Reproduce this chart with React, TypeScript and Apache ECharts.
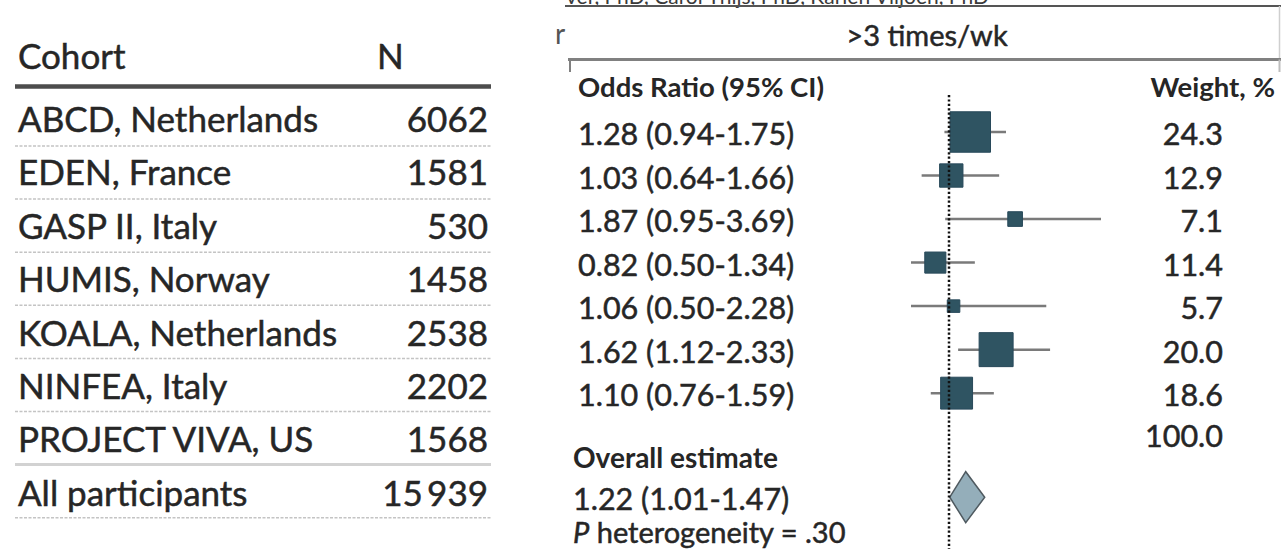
import React, { useEffect, useRef } from "react";
import * as echarts from "echarts";

// Cohort table
const cohorts = [
  "ABCD, Netherlands",
  "EDEN, France",
  "GASP II, Italy",
  "HUMIS, Norway",
  "KOALA, Netherlands",
  "NINFEA, Italy",
  "PROJECT VIVA, US",
];
const cohortN = ["6062", "1581", "530", "1458", "2538", "2202", "1568"];
const totalLabel = "All participants";
const totalN = "15\u2009939";

// Forest plot: >3 times/wk
const oddsRatio = [1.28, 1.03, 1.87, 0.82, 1.06, 1.62, 1.1];
const ciLow = [0.94, 0.64, 0.95, 0.5, 0.5, 1.12, 0.76];
const ciHigh = [1.75, 1.66, 3.69, 1.34, 2.28, 2.33, 1.59];
const weights = [24.3, 12.9, 7.1, 11.4, 5.7, 20.0, 18.6];
const overallEstimate = [1.22, 1.01, 1.47]; // OR, lower, upper
const totalWeight = 100.0;
const pHeterogeneity = ".30";

const X_MIN = 0.5;
const X_MAX = 3;
const Y_MIN = -0.85;
const Y_MAX = 9.58;
const SUMMARY_ROW = 8.39;

const FONT = "Lato, 'Noto Sans', sans-serif";
const TEXT = "#262626";
const ROW_SIZE = 30.5;

const fmt2 = (v: number) => v.toFixed(2);

// regular text with a hairline outline for a slightly heavier face
const txt = (text: string, size: number, align: string, extra: any = {}) => ({
  text,
  fill: TEXT,
  stroke: TEXT,
  lineWidth: 0.5,
  font: `${size}px ${FONT}`,
  textAlign: align,
  textVerticalAlign: "middle",
  ...extra,
});
const boldTxt = (text: string, size: number, align: string) => ({
  text,
  fill: TEXT,
  font: `bold ${size}px ${FONT}`,
  textAlign: align,
  textVerticalAlign: "middle",
});

export default function App() {
  const ref = useRef<HTMLDivElement>(null);

  useEffect(() => {
    if (!ref.current) return;
    const chart = echarts.init(ref.current, null, { renderer: "svg" });

    const graphic: any[] = [];
    const tableText = (text: string, x: number, y: number, align: string) => ({
      type: "text",
      x,
      y,
      style: txt(text, 35, align),
    });

    // table header
    graphic.push(tableText("Cohort", 18, 55, "left"));
    graphic.push(tableText("N", 377, 55, "left"));
    graphic.push({
      type: "line",
      shape: { x1: 15, y1: 86.5, x2: 491, y2: 86.5 },
      style: { stroke: "#4d4d4d", lineWidth: 4.5 },
    });
    const rowsLabel = [...cohorts, totalLabel];
    const rowsN = [...cohortN, totalN];
    rowsLabel.forEach((name, i) => {
      const yc = 118 + i * 53.4;
      graphic.push(tableText(name, 18, yc, "left"));
      graphic.push(tableText(rowsN[i], 488, yc, "right"));
      const ly = 146 + i * 53.1;
      const solid = i === 6;
      graphic.push({
        type: "line",
        shape: { x1: 15, y1: ly, x2: 491, y2: ly },
        style: solid
          ? { stroke: "#d2d2d2", lineWidth: 3 }
          : { stroke: "#c4c4c4", lineWidth: 1.5, lineDash: [3, 1.5] },
      });
    });

    // right panel frame and headings
    graphic.push({
      type: "text",
      x: 566,
      y: -5,
      style: {
        text: "ver, PhD, Carol Thijs, PhD, Karien Viljoen, PhD",
        fill: "#3a3a3a",
        font: `21px ${FONT}`,
        textAlign: "left",
        textVerticalAlign: "middle",
      },
    });
    graphic.push({
      type: "line",
      shape: { x1: 565, y1: 6, x2: 1281, y2: 6 },
      style: { stroke: "#555", lineWidth: 2 },
    });
    graphic.push({
      type: "line",
      shape: { x1: 1279.5, y1: 6, x2: 1279.5, y2: 58 },
      style: { stroke: "#cfcfcf", lineWidth: 1.5 },
    });
    graphic.push({
      type: "text",
      x: 555,
      y: 33,
      style: { text: "r", fill: "#555", font: `28px ${FONT}`, textAlign: "left", textVerticalAlign: "middle" },
    });
    graphic.push({ type: "text", x: 927, y: 34, style: txt(">3 times/wk", 29, "center") });
    graphic.push({
      type: "line",
      shape: { x1: 568, y1: 59.5, x2: 1281, y2: 59.5 },
      style: { stroke: "#808080", lineWidth: 3 },
    });
    graphic.push({
      type: "line",
      shape: { x1: 570, y1: 59.5, x2: 570, y2: 72 },
      style: { stroke: "#808080", lineWidth: 2 },
    });
    graphic.push({
      type: "line",
      shape: { x1: 1279.5, y1: 59.5, x2: 1279.5, y2: 72 },
      style: { stroke: "#bdbdbd", lineWidth: 2 },
    });
    graphic.push({ type: "text", x: 578, y: 86, style: boldTxt("Odds Ratio (95% CI)", 27.5, "left") });
    graphic.push({ type: "text", x: 1275, y: 86, style: boldTxt("Weight, %", 27.5, "right") });

    const studyData = oddsRatio.map((or, i) => [i, ciLow[i], ciHigh[i], or, weights[i]]);

    chart.setOption({
      animation: false,
      backgroundColor: "#fff",
      grid: { left: 911, width: 190, top: 95, height: 454, containLabel: false },
      xAxis: { type: "value", min: X_MIN, max: X_MAX, show: false },
      yAxis: { type: "value", min: Y_MIN, max: Y_MAX, inverse: true, show: false },
      graphic,
      series: [
        {
          // line of no effect
          type: "line",
          data: [
            [1, Y_MIN],
            [1, Y_MAX],
          ],
          symbol: "none",
          z: 5,
          lineStyle: { color: "#111", width: 2.5, type: [2.2, 2.2] },
          silent: true,
        },
        {
          type: "custom",
          z: 3,
          data: studyData,
          encode: { x: [1, 2, 3], y: 0 },
          renderItem: (params: any, api: any) => {
            const row = api.value(0);
            const lo = api.value(1);
            const hi = Math.min(api.value(2), X_MAX);
            const est = api.value(3);
            const w = api.value(4);
            const pLo = api.coord([lo, row]);
            const pHi = api.coord([hi, row]);
            const pEst = api.coord([est, row]);
            const side = 4 + 1.5 * w;
            return {
              type: "group",
              children: [
                {
                  type: "line",
                  shape: { x1: pLo[0], y1: pLo[1], x2: pHi[0], y2: pHi[1] },
                  style: { stroke: "#7a7a7a", lineWidth: 2.5 },
                },
                {
                  type: "rect",
                  shape: { x: pEst[0] - side / 2, y: pEst[1] - side / 2, width: side, height: side },
                  style: { fill: "#2f5462", stroke: "#28495a", lineWidth: 1 },
                },
                {
                  type: "text",
                  x: 578,
                  y: pEst[1] + 1,
                  style: txt(`${fmt2(est)} (${fmt2(api.value(1))}-${fmt2(api.value(2))})`, ROW_SIZE, "left"),
                },
                {
                  type: "text",
                  x: 1223,
                  y: pEst[1] + 1,
                  style: txt(w.toFixed(1), ROW_SIZE, "right"),
                },
              ],
            };
          },
        },
        {
          type: "custom",
          z: 3,
          data: [[SUMMARY_ROW, overallEstimate[1], overallEstimate[2], overallEstimate[0], totalWeight]],
          encode: { x: [1, 2, 3], y: 0 },
          renderItem: (params: any, api: any) => {
            const row = api.value(0);
            const lo = api.value(1);
            const hi = api.value(2);
            const est = api.value(3);
            const pLo = api.coord([lo, row]);
            const pHi = api.coord([hi, row]);
            const pEst = api.coord([est, row]);
            const half = 25.5;
            const yc = pEst[1];
            return {
              type: "group",
              children: [
                {
                  type: "polygon",
                  shape: {
                    points: [
                      [pLo[0], yc],
                      [pEst[0], yc - half],
                      [pHi[0], yc],
                      [pEst[0], yc + half],
                    ],
                  },
                  style: { fill: "#94aeba", stroke: "#4f5a60", lineWidth: 1.5 },
                },
                {
                  type: "text",
                  x: 1223,
                  y: yc - 62,
                  style: txt(api.value(4).toFixed(1), ROW_SIZE, "right"),
                },
                {
                  type: "text",
                  x: 573,
                  y: yc - 40,
                  style: boldTxt("Overall estimate", 28, "left"),
                },
                {
                  type: "text",
                  x: 573,
                  y: yc + 1,
                  style: txt(`${fmt2(est)} (${fmt2(lo)}-${fmt2(hi)})`, ROW_SIZE, "left"),
                },
                {
                  type: "text",
                  x: 573,
                  y: yc + 34,
                  style: txt(`{i|P} heterogeneity = ${pHeterogeneity}`, 29, "left", {
                    rich: {
                      i: { fontStyle: "italic", fontSize: 29, fontFamily: FONT, fill: TEXT },
                    },
                  }),
                },
              ],
            };
          },
        },
      ],
    });

    return () => chart.dispose();
  }, []);

  return (
    <div
      ref={ref}
      style={{ position: "fixed", left: 0, top: 0, width: 1281, height: 549, background: "#fff" }}
    />
  );
}
